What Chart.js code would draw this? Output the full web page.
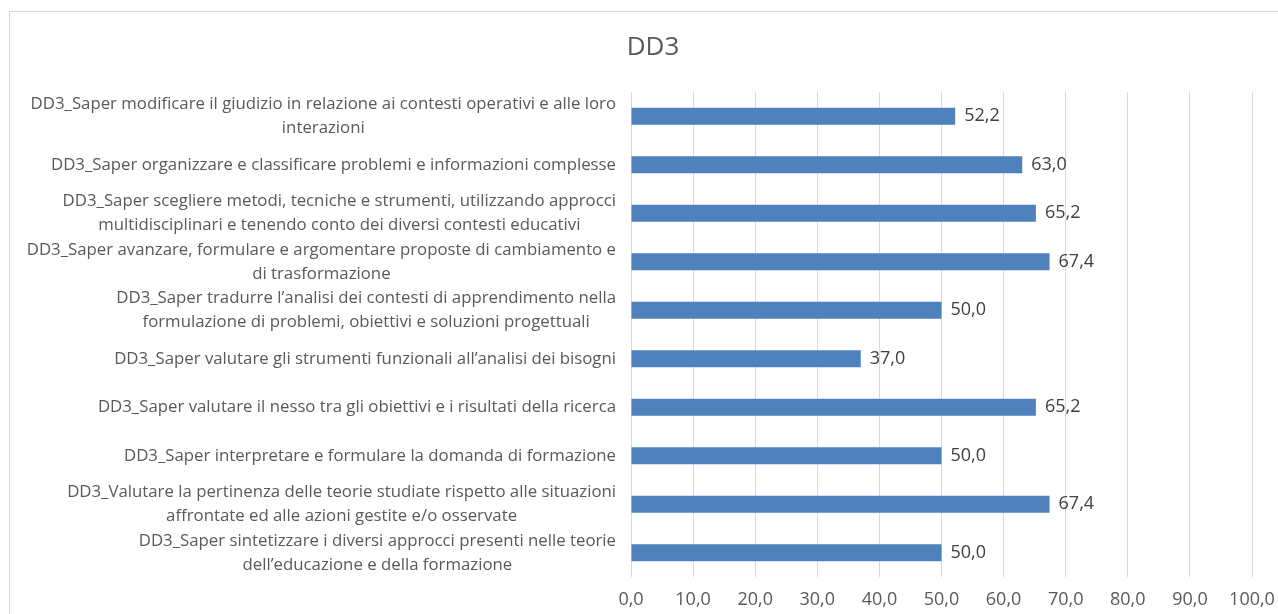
<!DOCTYPE html>
<html>
<head>
<meta charset="utf-8">
<script src="https://cdn.jsdelivr.net/npm/chart.js@4"></script>
<style>
  html, body { margin: 0; padding: 0; background: #fff; overflow: hidden; }
  #frame { position: absolute; left: 9px; top: 11px; width: 1290px; height: 620px; border: 1px solid #d9d9d9; }
  #chart { position: absolute; left: 0; top: 0; }
</style>
</head>
<body>
<div id="frame"></div>
<canvas id="chart" width="1278" height="614"></canvas>
<script>
const TITLE = 'DD3';
const categories = [
  ['DD3_Saper modificare il giudizio in relazione ai contesti operativi e alle loro', 'interazioni'],
  ['DD3_Saper organizzare e classificare problemi e informazioni complesse'],
  ['DD3_Saper scegliere metodi, tecniche e strumenti, utilizzando approcci', 'multidisciplinari e tenendo conto dei diversi contesti educativi'],
  ['DD3_Saper avanzare, formulare e argomentare proposte di cambiamento e', 'di trasformazione'],
  ['DD3_Saper tradurre l’analisi dei contesti di apprendimento nella', 'formulazione di problemi, obiettivi e soluzioni progettuali'],
  ['DD3_Saper valutare gli strumenti funzionali all’analisi dei bisogni'],
  ['DD3_Saper valutare il nesso tra gli obiettivi e i risultati della ricerca'],
  ['DD3_Saper interpretare e formulare la domanda di formazione'],
  ['DD3_Valutare la pertinenza delle teorie studiate rispetto alle situazioni', 'affrontate ed alle azioni gestite e/o osservate'],
  ['DD3_Saper sintetizzare i diversi approcci presenti nelle teorie', 'dell’educazione e della formazione'],
];
const values = [52.2, 63.0, 65.2, 67.4, 50.0, 37.0, 65.2, 50.0, 67.4, 50.0];
const xTicks = { min: 0, max: 100, step: 10 };

const FONT = '"Open Sans", sans-serif';
const TEXT = '#595959';
const fmt = v => v.toFixed(1).replace('.', ',');

// title centred on the outer frame rather than the canvas
const titleText = {
  id: 'titleText',
  afterDraw(chart) {
    const ctx = chart.ctx;
    ctx.save();
    ctx.font = '26px ' + FONT;
    ctx.fillStyle = TEXT;
    ctx.textAlign = 'center';
    ctx.textBaseline = 'middle';
    ctx.fillText(TITLE, 653, 48);
    ctx.restore();
  }
};

// category labels: each block centred on itself, right edge near the axis
const catLabels = {
  id: 'catLabels',
  afterDraw(chart) {
    const ctx = chart.ctx;
    const y = chart.scales.y;
    const right = chart.chartArea.left - 15;
    const lineH = 24;
    ctx.save();
    ctx.font = '16.8px ' + FONT;
    ctx.fillStyle = TEXT;
    ctx.textAlign = 'center';
    ctx.textBaseline = 'middle';
    categories.forEach((lines, i) => {
      const cy = y.getPixelForTick(i);
      const w = Math.max(...lines.map(l => ctx.measureText(l).width));
      const cx = right - w / 2;
      lines.forEach((l, j) => {
        ctx.fillText(l, cx, cy + (j - (lines.length - 1) / 2) * lineH);
      });
    });
    ctx.restore();
  }
};

const valueLabels = {
  id: 'valueLabels',
  afterDatasetsDraw(chart) {
    const ctx = chart.ctx;
    const meta = chart.getDatasetMeta(0);
    ctx.save();
    ctx.font = '18px ' + FONT;
    ctx.fillStyle = '#404040';
    ctx.textAlign = 'left';
    ctx.textBaseline = 'middle';
    meta.data.forEach((bar, i) => {
      ctx.fillText(fmt(values[i]), bar.x + 9, bar.y);
    });
    ctx.restore();
  }
};

new Chart(document.getElementById('chart'), {
  type: 'bar',
  data: {
    labels: categories,
    datasets: [{
      data: values,
      backgroundColor: '#4f81bd',
      borderWidth: 0,
      categoryPercentage: 0.7,
      barPercentage: 0.5,
    }],
  },
  options: {
    indexAxis: 'y',
    responsive: false,
    animation: false,
    layout: { padding: { top: 92, right: 26, bottom: 0, left: 0 } },
    plugins: {
      legend: { display: false },
      tooltip: { enabled: false },
      title: { display: false },
    },
    scales: {
      x: {
        min: xTicks.min,
        max: xTicks.max,
        grid: { color: '#d9d9d9', drawTicks: false },
        border: { display: false },
        ticks: {
          stepSize: xTicks.step,
          color: TEXT,
          padding: 12,
          font: { family: FONT, size: 18 },
          callback: v => fmt(v),
        },
        afterFit: s => { s.height = 37; s.paddingLeft = 0; s.paddingRight = 0; },
      },
      y: {
        grid: { display: false },
        border: { display: false },
        ticks: { display: false },
        afterFit: s => { s.width = 631; },
      },
    },
  },
  plugins: [catLabels, valueLabels, titleText],
});
</script>
</body>
</html>
